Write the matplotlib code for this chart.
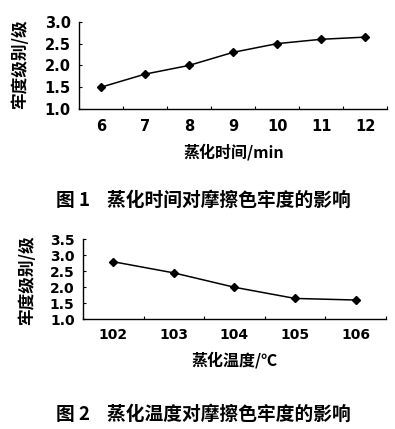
import numpy as np
import matplotlib
matplotlib.use("Agg")
import matplotlib.pyplot as plt
from matplotlib.ticker import FixedLocator

plt.rcParams["font.family"] = ["Noto Sans CJK SC", "DejaVu Sans"]

# figure 1 data
time_labels = ["6", "7", "8", "9", "10", "11", "12"]
time_grade = [1.5, 1.8, 2.0, 2.3, 2.5, 2.6, 2.65]

# figure 2 data
temp_labels = ["102", "103", "104", "105", "106"]
temp_grade = [2.8, 2.45, 2.0, 1.65, 1.6]

ylabel = "牢度级别/级"
xlabel_1 = "蒸化时间/min"
xlabel_2 = "蒸化温度/℃"
caption_1 = "图 1    蒸化时间对摩擦色牢度的影响"
caption_2 = "图 2    蒸化温度对摩擦色牢度的影响"

fig = plt.figure(figsize=(3.95, 4.29), dpi=100)


def style_axes(ax, labels, values, yticks, ypad, xpad, fs):
    x = np.arange(len(labels))
    ax.plot(x, values, color="black", linewidth=1.1, marker="D", markersize=4.5)
    ax.set_xlim(-0.5, len(labels) - 0.5)
    ax.set_ylim(yticks[0], yticks[-1])
    ax.set_xticks(x)
    ax.set_xticklabels(labels, fontsize=fs, fontweight="bold", family="DejaVu Sans")
    ax.xaxis.set_minor_locator(FixedLocator(np.arange(len(labels) + 1) - 0.5))
    ax.tick_params(axis="x", which="major", length=0, pad=xpad)
    ax.tick_params(axis="x", which="minor", direction="in", length=2.5, width=0.8)
    ax.set_yticks(yticks)
    ax.set_yticklabels([f"{v:.1f}" for v in yticks], fontsize=fs,
                       fontweight="bold", family="DejaVu Sans")
    ax.tick_params(axis="y", direction="in", length=2.5, width=0.8, pad=ypad)
    for side in ["top", "right"]:
        ax.spines[side].set_visible(False)
    for side in ["left", "bottom"]:
        ax.spines[side].set_linewidth(1.0)


ax1 = fig.add_axes([0.200, 0.746, 0.780, 0.203])
style_axes(ax1, time_labels, time_grade, [1.0, 1.5, 2.0, 2.5, 3.0], 6, 7, 10.5)

ax2 = fig.add_axes([0.210, 0.256, 0.767, 0.186])
style_axes(ax2, temp_labels, temp_grade, [1.0, 1.5, 2.0, 2.5, 3.0, 3.5], 6, 6, 10)

fig.text(0.051, 0.850, ylabel, rotation=90, ha="center", va="center",
         fontsize=12, fontweight="bold")
fig.text(0.068, 0.347, ylabel, rotation=90, ha="center", va="center",
         fontsize=12, fontweight="bold")
fig.text(0.592, 0.646, xlabel_1, ha="center", va="center", fontsize=11.5, fontweight="bold")
fig.text(0.595, 0.161, xlabel_2, ha="center", va="center", fontsize=11.5, fontweight="bold")
fig.text(0.514, 0.534, caption_1, ha="center", va="center", fontsize=13.5, fontweight="bold")
fig.text(0.514, 0.033, caption_2, ha="center", va="center", fontsize=13.5, fontweight="bold")

fig.savefig("out.png", dpi=100)
